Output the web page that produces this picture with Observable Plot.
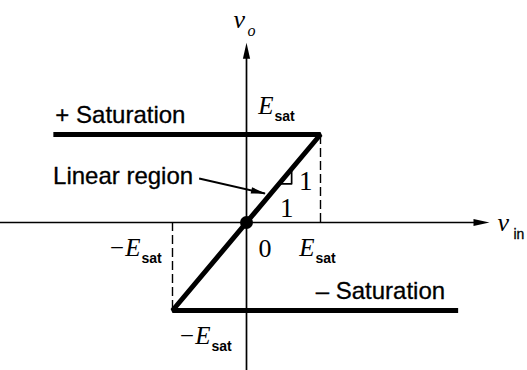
<!DOCTYPE html>
<html>
<head>
<meta charset="utf-8">
<script src="https://cdn.jsdelivr.net/npm/d3@7"></script>
<script src="https://cdn.jsdelivr.net/npm/@observablehq/plot@0.6"></script>
<style>
  html, body { margin: 0; padding: 0; background: #fff; }
  #chart svg { display: block; }
</style>
</head>
<body>
<div id="chart"></div>
<script>
// Op-amp transfer characteristic: output voltage v_o against input voltage v_in.
const Esat = 1;

// Extents of the two drawn axes (in units of Esat)
const vinAxis = [-3.4, 3.27];
const voAxis = [-1.8, 2.03];

// Transfer curve, traced as one path: + saturation, linear region, − saturation
const curveVin = [-2.61, Esat, -Esat, 2.86];
const curveVo = [Esat, Esat, -Esat, -Esat];

// Dashed guides at the ends of the linear region
const guideVin = [Esat, -Esat];
const guideVo = [Esat, -Esat];

// Unit slope marker on the linear region (rise 1, run 1)
const slopeRun = 0.17;
const slopeAt = 0.61;

// Pointer from the "Linear region" label to the curve
const pointerFrom = [-0.64, 0.5];
const pointerTo = [0.25, 0.33];

const curve = curveVin.map((vin, i) => ({vin, vo: curveVo[i]}));
const guides = guideVin.map((vin, i) => ({vin, vo: guideVo[i]}));

const W = 527, H = 370;
const pxPerX = 74, pxPerY = 88, originX = 246, originY = 222;
const xDomain = [-originX / pxPerX, (W - originX) / pxPerX];
const yDomain = [-(H - originY) / pxPerY, originY / pxPerY];

const serif = "'Liberation Serif', 'DejaVu Serif', serif";
const sans = "'Liberation Sans', Arial, sans-serif";

// Filled, narrow arrowhead pointing up with its tip at the origin of the symbol
function head(len, half) {
  return {
    draw(ctx) {
      ctx.moveTo(0, -1);
      ctx.lineTo(-half, len);
      ctx.lineTo(half, len);
      ctx.closePath();
    }
  };
}

// direction of the pointer on screen, as a clockwise rotation from "up"
const pointerAngle = 90 + Math.atan2(
  -(pointerTo[1] - pointerFrom[1]) * pxPerY,
  (pointerTo[0] - pointerFrom[0]) * pxPerX
) * 180 / Math.PI;

function label(text, x, y, opts = {}) {
  return Plot.text([text], {
    x: () => x, y: () => y, text: d => d,
    lineAnchor: "bottom", textAnchor: "start",
    fill: "black", fontSize: 24, fontFamily: serif,
    ...opts
  });
}

const sansLabel = {fontFamily: sans, fontSize: 24, letterSpacing: "0.9px", stroke: "black", strokeWidth: 0.3};

function esat(x, y, dx, dy, prefix = "") {
  return [
    label(prefix + "E", x, y, {dx, dy, textAnchor: "end", fontStyle: "italic", fontSize: 25}),
    label("sat", x, y, {dx: dx + 1, dy: dy + 7, fontSize: 14, fontWeight: "bold", fontFamily: sans, letterSpacing: "0.4px"})
  ];
}

const chart = Plot.plot({
  width: W,
  height: H,
  margin: 0,
  x: {domain: xDomain, axis: null},
  y: {domain: yDomain, axis: null},
  style: {background: "#fff", overflow: "visible"},
  marks: [
    // axes
    Plot.ruleY([0], {x1: vinAxis[0], x2: vinAxis[1] - 0.1, stroke: "black", strokeWidth: 1.7}),
    Plot.ruleX([0], {y1: voAxis[0], y2: voAxis[1] - 0.1, stroke: "black", strokeWidth: 1.7}),
    Plot.dot([{x: 0, y: voAxis[1], a: 0}, {x: vinAxis[1], y: 0, a: 90}], {
      x: "x", y: "y", rotate: "a", symbol: head(15, 3.6), r: 5, fill: "black", stroke: "none"
    }),

    // dashed guides from the curve corners to the v_in axis
    Plot.ruleX(guides, {x: "vin", y1: 0, y2: "vo", stroke: "black", strokeWidth: 1.4, strokeDasharray: "9,4"}),

    // slope marker
    Plot.line([
      {x: slopeAt - slopeRun, y: slopeAt - slopeRun},
      {x: slopeAt, y: slopeAt - slopeRun},
      {x: slopeAt, y: slopeAt}
    ], {x: "x", y: "y", stroke: "black", strokeWidth: 1.7}),

    // transfer curve
    Plot.line(curve, {x: "vin", y: "vo", stroke: "black", strokeWidth: 5, strokeLinejoin: "miter", strokeLinecap: "butt"}),
    Plot.dot([{x: 0, y: 0}], {x: "x", y: "y", r: 6.5, fill: "black", stroke: "none"}),

    // pointer to the linear region
    Plot.link([{}], {
      x1: () => pointerFrom[0], y1: () => pointerFrom[1],
      x2: () => pointerTo[0], y2: () => pointerTo[1],
      stroke: "black", strokeWidth: 2
    }),
    Plot.dot([{}], {
      x: () => pointerTo[0], y: () => pointerTo[1], rotate: () => pointerAngle,
      symbol: head(14, 3.2), r: 5, fill: "black", stroke: "none"
    }),

    // axis names
    label("v", 0, voAxis[1], {dx: -13, dy: -16, fontStyle: "italic", fontSize: 26}),
    label("o", 0, voAxis[1], {dx: 1, dy: -8, fontStyle: "italic", fontSize: 16}),
    label("v", vinAxis[1], 0, {dx: 9, dy: 8, fontStyle: "italic", fontSize: 26}),
    label("in", vinAxis[1], 0, {dx: 25, dy: 16, fontSize: 14, fontFamily: sans, stroke: "black", strokeWidth: 0.3}),

    // saturation level labels
    ...esat(0, Esat, 27, -21),
    ...esat(Esat, 0, -6, 33),
    ...esat(-Esat, 0, -32, 33, "\u2212"),
    ...esat(-Esat, -Esat, 38, 33, "\u2212"),
    label("0", 0, 0, {dx: 12, dy: 34, fontSize: 26}),

    // slope marker values
    label("1", slopeAt, slopeAt - slopeRun, {dx: 14, dy: 6, textAnchor: "middle", fontSize: 27}),
    label("1", slopeAt, slopeAt - slopeRun, {dx: -5, dy: 33, textAnchor: "middle", fontSize: 27}),

    // region names
    label("+ Saturation", curveVin[0], curveVo[0], {dx: 2, dy: -12, ...sansLabel}),
    label("\u2013 Saturation", curveVin[3], curveVo[3], {dx: -13, dy: -12, textAnchor: "end", ...sansLabel}),
    label("Linear region", pointerFrom[0], pointerFrom[1], {dx: -6, dy: 5, textAnchor: "end", ...sansLabel})
  ]
});

document.getElementById("chart").append(chart);
</script>
</body>
</html>
